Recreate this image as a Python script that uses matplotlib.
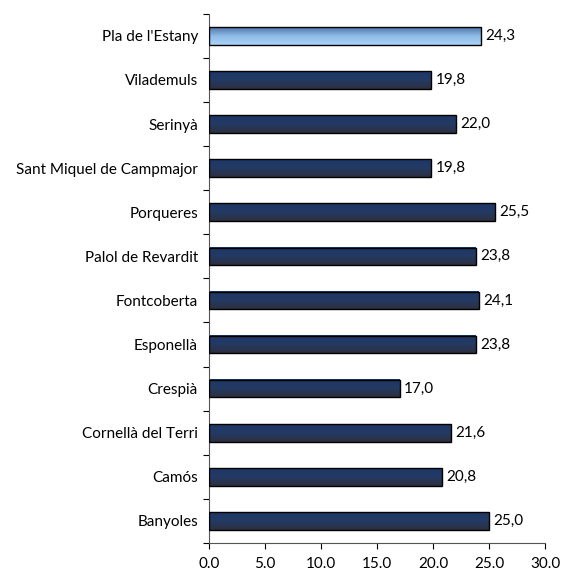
import numpy as np
import matplotlib.pyplot as plt
from matplotlib.colors import LinearSegmentedColormap

plt.rcParams['font.family'] = ['Lato', 'DejaVu Sans']

# municipis (de baix a dalt) i valors
municipis = ['Banyoles', 'Camós', 'Cornellà del Terri', 'Crespià', 'Esponellà',
             'Fontcoberta', 'Palol de Revardit', 'Porqueres',
             'Sant Miquel de Campmajor', 'Serinyà', 'Vilademuls', "Pla de l'Estany"]
valors = [25.0, 20.8, 21.6, 17.0, 23.8, 24.1, 23.8, 25.5, 19.8, 22.0, 19.8, 24.3]
xticks = [0, 5, 10, 15, 20, 25, 30]

fosc = LinearSegmentedColormap.from_list('fosc', ['#2d2f3f', '#233a63', '#1d3868'])
clar = LinearSegmentedColormap.from_list('clar', ['#a9d3f7', '#8fbbe8', '#4f77a8'])
grad = np.linspace(0, 1, 64).reshape(-1, 1)
fs = 11

fig = plt.figure(figsize=(5.62, 5.77), dpi=100)
ax = fig.add_axes([0.372, 0.059, 0.598, 0.917])

y = np.arange(len(municipis))
barres = ax.barh(y, valors, height=0.4, facecolor='none', edgecolor='black',
                 linewidth=1.0, zorder=3)
for i, b in enumerate(barres):
    cmap = clar if i == len(municipis) - 1 else fosc
    x0, y0, w, h = b.get_x(), b.get_y(), b.get_width(), b.get_height()
    ax.imshow(grad, extent=[x0, x0 + w, y0, y0 + h], origin='lower',
              aspect='auto', cmap=cmap, zorder=2, interpolation='bilinear')
    ax.text(x0 + w + 0.4, y[i], f'{valors[i]:.1f}'.replace('.', ','),
            va='center', ha='left', fontsize=fs)

ax.set_xlim(0, 30)
ax.set_ylim(-0.5, len(municipis) - 0.5)
ax.set_xticks(xticks)
ax.set_xticklabels([f'{t:.1f}' for t in xticks], fontsize=fs)
ax.set_yticks(np.arange(-0.5, len(municipis), 1.0))
ax.set_yticklabels([])
ax.set_yticks(y, minor=True)
ax.set_yticklabels(municipis, minor=True, fontsize=fs)
ax.tick_params(axis='y', which='minor', length=0, pad=8)
ax.tick_params(axis='y', which='major', length=4, direction='out')
ax.tick_params(axis='x', length=4, direction='out', pad=6)

for s in ['top', 'right']:
    ax.spines[s].set_visible(False)
ax.spines['left'].set_color('#555555')
ax.spines['bottom'].set_color('#555555')

fig.savefig('out.png', dpi=100)
